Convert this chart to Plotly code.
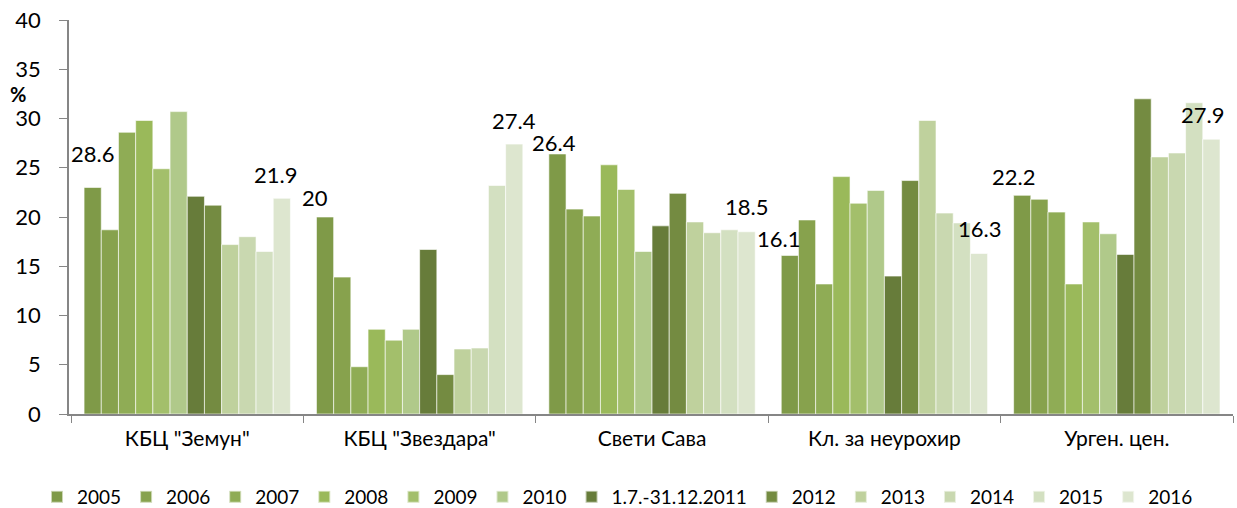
import plotly.graph_objects as go

categories = ['КБЦ "Земун"', 'КБЦ "Звездара"', 'Свети Сава', 'Кл. за неурохир', 'Урген. цен.']
series_names = ["2005", "2006", "2007", "2008", "2009", "2010", "1.7.-31.12.2011",
                "2012", "2013", "2014", "2015", "2016"]

v2005 = [23.0, 20.0, 26.4, 16.1, 22.2]
v2006 = [18.7, 13.9, 20.8, 19.7, 21.8]
v2007 = [28.6, 4.8, 20.1, 13.2, 20.5]
v2008 = [29.8, 8.6, 25.3, 24.1, 13.2]
v2009 = [24.9, 7.5, 22.8, 21.4, 19.5]
v2010 = [30.7, 8.6, 16.5, 22.7, 18.3]
v2011 = [22.1, 16.7, 19.1, 14.0, 16.2]
v2012 = [21.2, 4.0, 22.4, 23.7, 32.0]
v2013 = [17.2, 6.6, 19.5, 29.8, 26.1]
v2014 = [18.0, 6.7, 18.4, 20.4, 26.5]
v2015 = [16.5, 23.2, 18.7, 19.4, 31.6]
v2016 = [21.9, 27.4, 18.5, 16.3, 27.9]

series_values = [v2005, v2006, v2007, v2008, v2009, v2010, v2011,
                 v2012, v2013, v2014, v2015, v2016]

# data labels: (category index, series name, text)
label_cat = [0, 0, 1, 1, 2, 2, 3, 3, 4, 4]
label_series = ["2005", "2016", "2005", "2016", "2005", "2016", "2005", "2016", "2005", "2016"]
label_text = ["28.6", "21.9", "20", "27.4", "26.4", "18.5", "16.1", "16.3", "22.2", "27.9"]

colors = ["#7F9A48", "#87A24D", "#8FAC55", "#9AB95A", "#A3BF6B", "#B0C98A",
          "#677C3A", "#748B41", "#BFD19D", "#C9D8B0", "#D3E0C1", "#DDE6CF"]

FONT = "Lato, 'Open Sans', sans-serif"
W, H = 1237, 508
ML, MR, MT, MB = 69, 4, 20, 94
BARGAP = 0.112

fig = go.Figure()
for name, vals, col in zip(series_names, series_values, colors):
    fig.add_trace(go.Bar(
        name=name, x=categories, y=vals,
        marker=dict(color=col, line=dict(color="rgba(255,255,255,0.6)", width=1)),
    ))

# label placement offsets (px): relative to bar center / bar top
label_dx = [0, -6, -10, 0, -3, 0, -11, 0, -9, -9]
label_dy = [34, 24, 20, 24, 11, 25, 17, 25, 19, 25]

plot_w = W - ML - MR
plot_h = H - MT - MB
cat_w = plot_w / len(categories)
bar_w = cat_w * (1 - BARGAP) / len(series_names)
annotations = []
for ci, sname, txt, dx, dy in zip(label_cat, label_series, label_text, label_dx, label_dy):
    si = series_names.index(sname)
    yv = series_values[si][ci]
    annotations.append(dict(
        x=categories[ci], y=yv, xref="x", yref="y", text=txt, showarrow=False,
        xanchor="center", yanchor="middle",
        xshift=(si - (len(series_names) - 1) / 2) * bar_w + dx, yshift=dy,
        font=dict(family=FONT, size=22, color="#000000"),
    ))

# "%" unit label, positioned in pixels relative to the plot area
annotations.append(dict(
    x=(18 - ML) / plot_w, y=(H - MB - 94) / plot_h, xref="paper", yref="paper",
    text="<b>%</b>", showarrow=False, xanchor="center", yanchor="middle",
    font=dict(family=FONT, size=20, color="#000000"),
))

fig.update_layout(
    width=W, height=H,
    margin=dict(l=ML, r=MR, t=MT, b=MB),
    barmode="group", bargap=BARGAP, bargroupgap=0,
    plot_bgcolor="white", paper_bgcolor="white",
    font=dict(family=FONT, color="#000000"),
    annotations=annotations,
    legend=dict(
        orientation="h", xref="container", yref="container",
        x=37 / W, y=1 - 497 / H, xanchor="left", yanchor="middle",
        font=dict(family=FONT, size=19, color="#000000"),
        itemsizing="constant", tracegroupgap=0,
    ),
    xaxis=dict(
        showline=True, linecolor="#868686", linewidth=1.5,
        ticks="outside", tickson="boundaries", ticklen=7, tickcolor="#868686",
        tickfont=dict(family=FONT, size=21, color="#000000"),
        ticklabelstandoff=5,
        showgrid=False,
    ),
    yaxis=dict(
        range=[0, 40], dtick=5, tick0=0,
        showline=True, linecolor="#868686", linewidth=1.5,
        ticks="outside", ticklen=8, tickcolor="#868686",
        tickfont=dict(family=FONT, size=22, color="#000000"),
        ticklabelstandoff=14,
        showgrid=False, zeroline=False,
    ),
)

fig.write_html("out.html")
